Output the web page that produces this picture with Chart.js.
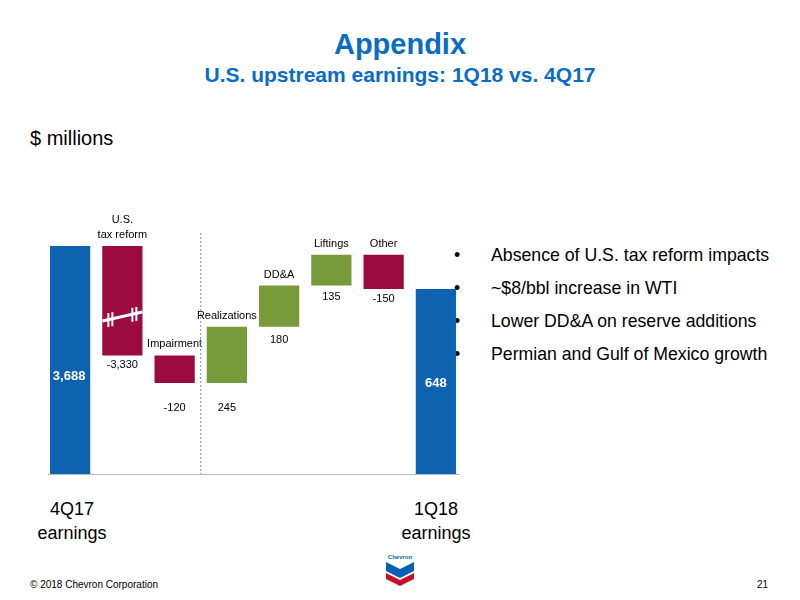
<!DOCTYPE html>
<html><head><meta charset="utf-8">
<script src="https://cdn.jsdelivr.net/npm/chart.js@4/dist/chart.umd.min.js"></script>
<style>
body{margin:0;width:800px;height:600px;background:#fff;font-family:"Liberation Sans",Arial,sans-serif;position:relative;overflow:hidden}
.t{position:absolute;white-space:nowrap}
#wrap{position:absolute;left:44px;top:200px;width:418px;height:275px}
.b{position:relative;padding-left:37px}.b:before{content:"•";position:absolute;left:0}
</style></head><body>
<div class="t" style="left:0;width:800px;text-align:center;top:28px;font-size:29px;font-weight:bold;color:#0a6cc4">Appendix</div>
<div class="t" style="left:0;width:800px;text-align:center;top:63px;font-size:21px;font-weight:bold;color:#0a6cc4">U.S. upstream earnings: 1Q18 vs. 4Q17</div>
<div class="t" style="left:30px;top:127px;font-size:20px">$ millions</div>
<div class="t" style="left:454px;top:239px;font-size:17.7px;line-height:33px">
<div class="b">Absence of U.S. tax reform impacts</div>
<div class="b">~$8/bbl increase in WTI</div>
<div class="b">Lower DD&amp;A on reserve additions</div>
<div class="b">Permian and Gulf of Mexico growth</div></div>
<div class="t" style="left:22px;width:100px;text-align:center;top:497px;font-size:18px;line-height:24px">4Q17<br>earnings</div>
<div class="t" style="left:386px;width:100px;text-align:center;top:497px;font-size:18px;line-height:24px">1Q18<br>earnings</div>
<div class="t" style="left:30px;top:579px;font-size:10px">© 2018 Chevron Corporation</div>
<div class="t" style="left:757px;top:579px;font-size:10px">21</div>
<svg style="position:absolute;left:383px;top:552px" width="34" height="36">
<text x="17" y="7" font-size="6" text-anchor="middle" fill="#0a5fb4" font-weight="bold">Chevron</text>
<path d="M3 10 L17 17 L31 10 L31 19 L17 26 L3 19Z" fill="#0a5fb4"/>
<path d="M3 21 L17 28 L31 21 L31 27 L17 34 L3 27Z" fill="#c8102e"/>
</svg>
<div id="wrap"><canvas id="c"></canvas></div>
<script>
const categories=["4Q17 earnings","U.S.\ntax reform","Impairment","Realizations","DD&A","Liftings","Other","1Q18 earnings"];
const startValue=3688;
const deltas=[-3330,-120,245,180,135,-150];
const endValue=648;
const valueLabels=["3,688","-3,330","-120","245","180","135","-150","648"];
// not-to-scale axis as drawn in the slide: offset, then broken above BREAK
const OFF=37.6,S=0.229,BREAK=800,K=0.00284;
const tf=v=>v<=0?0:(v<=BREAK?OFF+S*v:OFF+S*BREAK+(v-BREAK)*K);
const ranges=[[0,startValue]];let cum=startValue;
deltas.forEach(d=>{const n=cum+d;ranges.push([Math.min(cum,n),Math.max(cum,n)]);cum=n;});
ranges.push([0,endValue]);
const data=ranges.map(r=>[tf(r[0]),tf(r[1])]);
const colors=["#0e63b0"].concat(deltas.map(d=>d<0?"#9b0b3d":"#779a3a")).concat(["#0e63b0"]);
const below=[0,10,25,25,13,11,10,0];
const lab={id:"lab",afterDatasetsDraw(ch){
 const c=ch.ctx,m=ch.getDatasetMeta(0);c.save();c.textAlign="center";c.textBaseline="middle";
 m.data.forEach((b,i)=>{
  const t=Math.min(b.y,b.base),bo=Math.max(b.y,b.base);
  c.font="11px 'Liberation Sans',Arial";c.fillStyle="#000";
  if(i==0||i==7){c.font="bold 13px 'Liberation Sans',Arial";c.fillStyle="#fff";
   c.fillText(valueLabels[i],b.x-(i==0?1:0),i==0?176:183);}
  else{c.fillText(valueLabels[i],b.x,bo+below[i]);
   const lines=categories[i].split("\n");
   lines.forEach((l,j)=>c.fillText(l,b.x,t-11-(lines.length-1-j)*15));}
 });
 const b=m.data[1];c.strokeStyle="#fff";c.lineWidth=3;
 c.beginPath();c.moveTo(b.x-20,121);c.lineTo(b.x+20,112);c.stroke();
 c.lineWidth=2;[-14,-10,10,14].forEach(dx=>{c.beginPath();c.moveTo(b.x+dx,110-dx*0.22);c.lineTo(b.x+dx,124-dx*0.22);c.stroke();});
 c.strokeStyle="#6f8fb5";c.lineWidth=1;c.setLineDash([2,2]);
 const x=(m.data[2].x+m.data[3].x)/2;c.beginPath();c.moveTo(x,33);c.lineTo(x,275);c.stroke();
 c.setLineDash([]);c.strokeStyle="#bbb";c.beginPath();c.moveTo(4,274.5);c.lineTo(416,274.5);c.stroke();
 c.restore();}};
new Chart(document.getElementById("c"),{type:"bar",
 data:{labels:categories,datasets:[{data:data,backgroundColor:colors,barPercentage:0.77,categoryPercentage:1}]},
 options:{responsive:true,maintainAspectRatio:false,animation:false,layout:{padding:0},
  plugins:{legend:{display:false},tooltip:{enabled:false}},
  scales:{x:{display:false},y:{display:false,min:0,max:275}}},
 plugins:[lab]});
</script></body></html>
